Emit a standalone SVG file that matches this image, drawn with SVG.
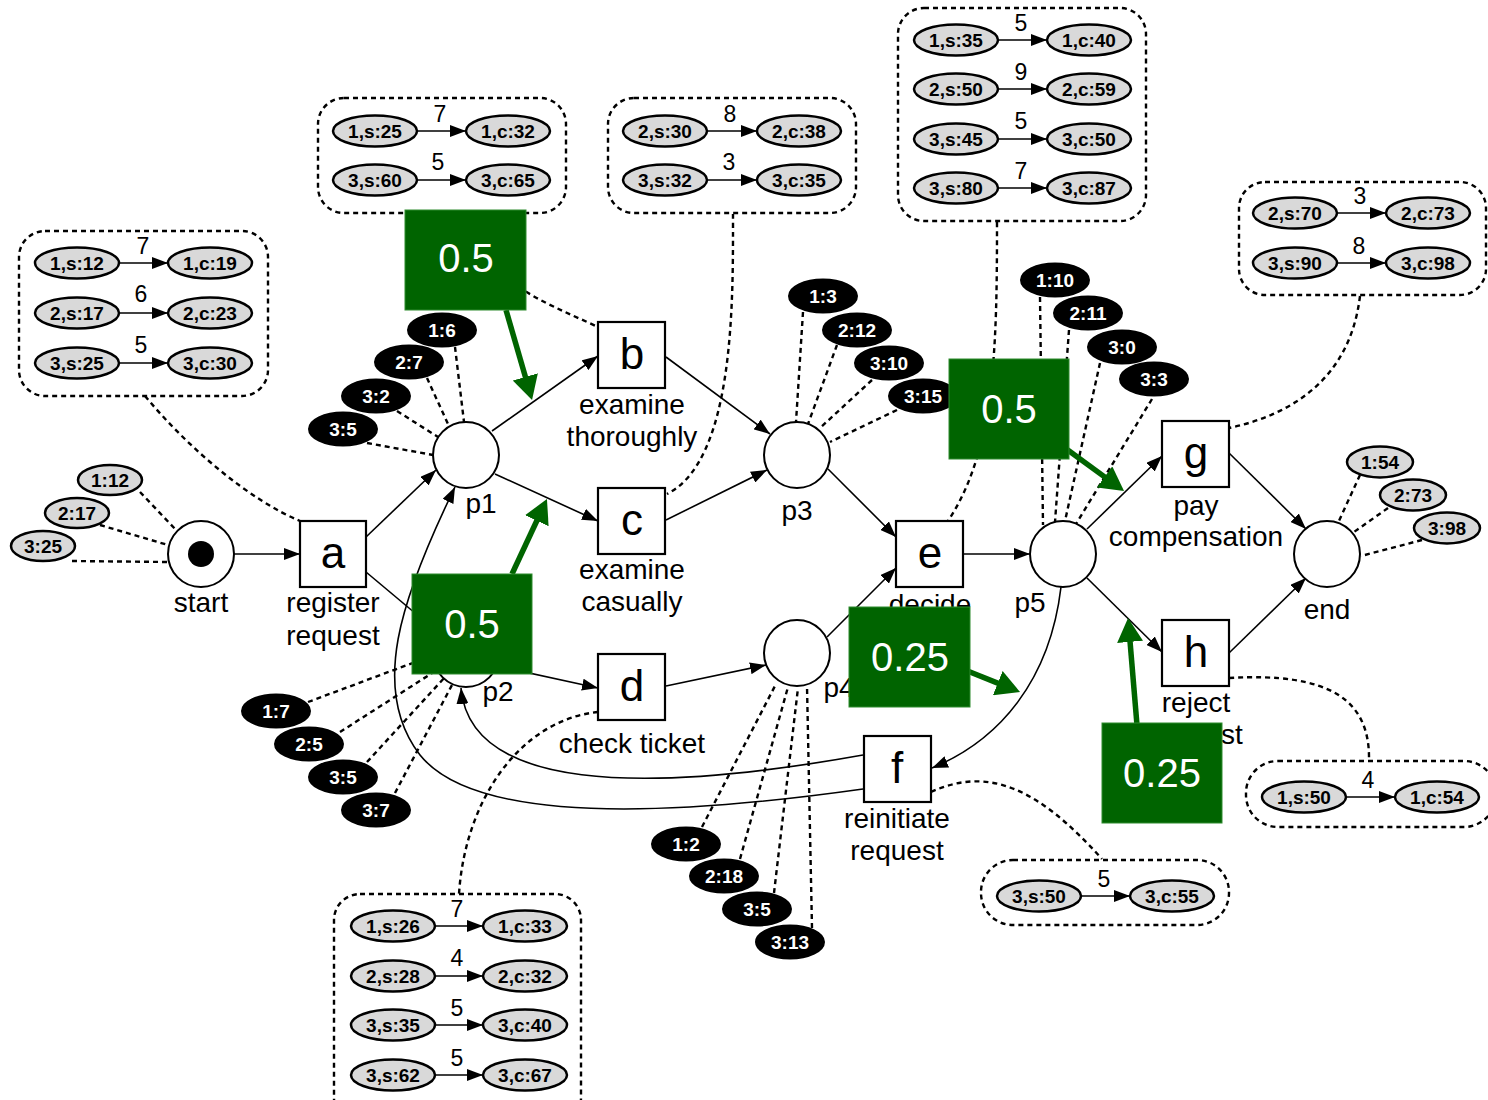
<svg xmlns="http://www.w3.org/2000/svg" width="1488" height="1100" viewBox="0 0 1488 1100">
<defs>
<marker id="ah" markerUnits="userSpaceOnUse" viewBox="0 0 16 12" refX="16" refY="6" markerWidth="16" markerHeight="12" orient="auto"><path d="M0,0 L16,6 L0,12 z" fill="#000"/></marker>
<marker id="gah" markerUnits="userSpaceOnUse" viewBox="0 0 24 26" refX="8" refY="13" markerWidth="24" markerHeight="26" orient="auto"><path d="M0,0 L24,13 L0,26 z" fill="#006400"/></marker>
<style>
text{font-family:"Liberation Sans",Arial,sans-serif;}
.lbl{font-size:28px;text-anchor:middle;fill:#000;}
.let{font-size:44px;text-anchor:middle;fill:#000;}
.pl{fill:#fff;stroke:#000;stroke-width:2;}
.tr{fill:#fff;stroke:#000;stroke-width:2.2;}
.arc{fill:none;stroke:#000;stroke-width:1.6;marker-end:url(#ah);}
.dot{fill:none;stroke:#000;stroke-width:2.4;stroke-dasharray:5,4;}
.tokb{fill:#000;stroke:#000;stroke-width:2;}
.tokg{fill:#d9d9d9;stroke:#000;stroke-width:2.5;}
.tt{font-size:19px;font-weight:bold;text-anchor:middle;}
.tw{fill:#fff;}
.tk{fill:#000;}
.num{font-size:23px;text-anchor:middle;fill:#000;}
.ia{stroke:#000;stroke-width:1.6;marker-end:url(#ah);}
.gbox{fill:#006400;stroke:#2e8b2e;stroke-width:1;}
.gt{font-size:40px;fill:#fff;text-anchor:middle;}
.ga{stroke:#006400;stroke-width:5.5;fill:none;marker-end:url(#gah);}
.ann{fill:none;stroke:#000;stroke-width:2.4;stroke-dasharray:5,4;}
</style>
</defs>
<rect width="1488" height="1100" fill="#fff"/>

<g id="connectors">
<path class="dot" d="M145 396 C190 450, 250 500, 300 521"/>
<path class="dot" d="M470 214 C480 280, 540 300, 598 327"/>
<path class="dot" d="M733 214 C733 300, 735 460, 667 494"/>
<path class="dot" d="M997 222 C997 350, 995 450, 948 521"/>
<path class="dot" d="M1360 296 C1350 380, 1290 415, 1229 428"/>
<path class="dot" d="M1229 678 C1330 672, 1370 700, 1369 760"/>
<path class="dot" d="M931 792 C990 765, 1040 790, 1102 859"/>
<path class="dot" d="M598 712 C520 720, 465 800, 459 894"/>
<path class="dot" d="M140 492 L176 530 M100 525 L168 545 M72 561 L168 562"/>
<path class="dot" d="M455 347 L464 422 M427 378 L448 424 M397 411 L438 437 M367 443 L433 455"/>
<path class="dot" d="M803 312 L796 422 M837 345 L808 424 M872 380 L820 428 M897 410 L830 442"/>
<path class="dot" d="M1040 297 L1043 525 M1069 330 L1055 522 M1100 363 L1065 521 M1152 399 L1076 524"/>
<path class="dot" d="M308 702 L434 655 M340 732 L440 668 M367 762 L446 676 M395 793 L452 685"/>
<path class="dot" d="M702 827 L776 684 M740 859 L788 687 M774 893 L798 688 M812 928 L807 686"/>
<path class="dot" d="M1360 475 L1338 523 M1388 508 L1354 532 M1422 540 L1361 556"/>
<line class="arc" x1="234" y1="554" x2="300" y2="554"/>
<line class="arc" x1="366" y1="537" x2="436" y2="470"/>
<line class="arc" x1="366" y1="572" x2="440" y2="634"/>
<line class="arc" x1="492" y1="431" x2="598" y2="356"/>
<line class="arc" x1="495" y1="474" x2="598" y2="521"/>
<line class="arc" x1="666" y1="357" x2="770" y2="434"/>
<line class="arc" x1="666" y1="520" x2="767" y2="470"/>
<line class="arc" x1="497" y1="666" x2="598" y2="688"/>
<line class="arc" x1="666" y1="686" x2="766" y2="665"/>
<line class="arc" x1="828" y1="469" x2="896" y2="537"/>
<line class="arc" x1="827" y1="637" x2="896" y2="568"/>
<line class="arc" x1="963" y1="554" x2="1030" y2="554"/>
<line class="arc" x1="1087" y1="529" x2="1162" y2="456"/>
<line class="arc" x1="1087" y1="578" x2="1162" y2="652"/>
<line class="arc" x1="1229" y1="453" x2="1306" y2="529"/>
<line class="arc" x1="1229" y1="653" x2="1306" y2="578"/>
<path class="arc" d="M1061 587 C1050 680, 1000 740, 932 768"/>
<path class="arc" d="M863 755 C640 795, 470 790, 461 688"/>
<path class="arc" d="M863 789 C700 812, 480 830, 420 755 C370 690, 400 600, 455 487"/>
</g>

<g id="ann-a">
<rect class="ann" x="19" y="231" width="249" height="165" rx="26"/>
<ellipse class="tokg" cx="77" cy="263" rx="42" ry="15.5"/><text class="tt tk" x="77" y="270">1,s:12</text>
<line class="ia" x1="119" y1="263" x2="168" y2="263"/><text class="num" x="143" y="254">7</text>
<ellipse class="tokg" cx="210" cy="263" rx="42" ry="15.5"/><text class="tt tk" x="210" y="270">1,c:19</text>
<ellipse class="tokg" cx="77" cy="313" rx="42" ry="15.5"/><text class="tt tk" x="77" y="320">2,s:17</text>
<line class="ia" x1="119" y1="313" x2="168" y2="313"/><text class="num" x="141" y="302">6</text>
<ellipse class="tokg" cx="210" cy="313" rx="42" ry="15.5"/><text class="tt tk" x="210" y="320">2,c:23</text>
<ellipse class="tokg" cx="77" cy="363" rx="42" ry="15.5"/><text class="tt tk" x="77" y="370">3,s:25</text>
<line class="ia" x1="119" y1="363" x2="168" y2="363"/><text class="num" x="141" y="353">5</text>
<ellipse class="tokg" cx="210" cy="363" rx="42" ry="15.5"/><text class="tt tk" x="210" y="370">3,c:30</text>
</g>
<g id="ann-b">
<rect class="ann" x="318" y="98" width="248" height="115" rx="26"/>
<ellipse class="tokg" cx="375" cy="131" rx="42" ry="15.5"/><text class="tt tk" x="375" y="138">1,s:25</text>
<line class="ia" x1="417" y1="131" x2="466" y2="131"/><text class="num" x="440" y="122">7</text>
<ellipse class="tokg" cx="508" cy="131" rx="42" ry="15.5"/><text class="tt tk" x="508" y="138">1,c:32</text>
<ellipse class="tokg" cx="375" cy="180" rx="42" ry="15.5"/><text class="tt tk" x="375" y="187">3,s:60</text>
<line class="ia" x1="417" y1="180" x2="466" y2="180"/><text class="num" x="438" y="170">5</text>
<ellipse class="tokg" cx="508" cy="180" rx="42" ry="15.5"/><text class="tt tk" x="508" y="187">3,c:65</text>
</g>
<g id="ann-c">
<rect class="ann" x="608" y="98" width="248" height="115" rx="26"/>
<ellipse class="tokg" cx="665" cy="131" rx="42" ry="15.5"/><text class="tt tk" x="665" y="138">2,s:30</text>
<line class="ia" x1="707" y1="131" x2="757" y2="131"/><text class="num" x="730" y="122">8</text>
<ellipse class="tokg" cx="799" cy="131" rx="42" ry="15.5"/><text class="tt tk" x="799" y="138">2,c:38</text>
<ellipse class="tokg" cx="665" cy="180" rx="42" ry="15.5"/><text class="tt tk" x="665" y="187">3,s:32</text>
<line class="ia" x1="707" y1="180" x2="757" y2="180"/><text class="num" x="729" y="170">3</text>
<ellipse class="tokg" cx="799" cy="180" rx="42" ry="15.5"/><text class="tt tk" x="799" y="187">3,c:35</text>
</g>
<g id="ann-e">
<rect class="ann" x="898" y="8" width="248" height="213" rx="26"/>
<ellipse class="tokg" cx="956" cy="40" rx="42" ry="15.5"/><text class="tt tk" x="956" y="47">1,s:35</text>
<line class="ia" x1="998" y1="40" x2="1047" y2="40"/><text class="num" x="1021" y="31">5</text>
<ellipse class="tokg" cx="1089" cy="40" rx="42" ry="15.5"/><text class="tt tk" x="1089" y="47">1,c:40</text>
<ellipse class="tokg" cx="956" cy="89" rx="42" ry="15.5"/><text class="tt tk" x="956" y="96">2,s:50</text>
<line class="ia" x1="998" y1="89" x2="1047" y2="89"/><text class="num" x="1021" y="80">9</text>
<ellipse class="tokg" cx="1089" cy="89" rx="42" ry="15.5"/><text class="tt tk" x="1089" y="96">2,c:59</text>
<ellipse class="tokg" cx="956" cy="139" rx="42" ry="15.5"/><text class="tt tk" x="956" y="146">3,s:45</text>
<line class="ia" x1="998" y1="139" x2="1047" y2="139"/><text class="num" x="1021" y="129">5</text>
<ellipse class="tokg" cx="1089" cy="139" rx="42" ry="15.5"/><text class="tt tk" x="1089" y="146">3,c:50</text>
<ellipse class="tokg" cx="956" cy="188" rx="42" ry="15.5"/><text class="tt tk" x="956" y="195">3,s:80</text>
<line class="ia" x1="998" y1="188" x2="1047" y2="188"/><text class="num" x="1021" y="179">7</text>
<ellipse class="tokg" cx="1089" cy="188" rx="42" ry="15.5"/><text class="tt tk" x="1089" y="195">3,c:87</text>
</g>
<g id="ann-g">
<rect class="ann" x="1239" y="182" width="247" height="113" rx="26"/>
<ellipse class="tokg" cx="1295" cy="213" rx="42" ry="15.5"/><text class="tt tk" x="1295" y="220">2,s:70</text>
<line class="ia" x1="1337" y1="213" x2="1386" y2="213"/><text class="num" x="1360" y="204">3</text>
<ellipse class="tokg" cx="1428" cy="213" rx="42" ry="15.5"/><text class="tt tk" x="1428" y="220">2,c:73</text>
<ellipse class="tokg" cx="1295" cy="263" rx="42" ry="15.5"/><text class="tt tk" x="1295" y="270">3,s:90</text>
<line class="ia" x1="1337" y1="263" x2="1386" y2="263"/><text class="num" x="1359" y="254">8</text>
<ellipse class="tokg" cx="1428" cy="263" rx="42" ry="15.5"/><text class="tt tk" x="1428" y="270">3,c:98</text>
</g>
<g id="ann-h">
<rect class="ann" x="1246" y="761" width="250" height="66" rx="32"/>
<ellipse class="tokg" cx="1304" cy="797" rx="42" ry="15.5"/><text class="tt tk" x="1304" y="804">1,s:50</text>
<line class="ia" x1="1346" y1="797" x2="1395" y2="797"/><text class="num" x="1368" y="788">4</text>
<ellipse class="tokg" cx="1437" cy="797" rx="42" ry="15.5"/><text class="tt tk" x="1437" y="804">1,c:54</text>
</g>
<g id="ann-f">
<rect class="ann" x="981" y="860" width="248" height="65" rx="32"/>
<ellipse class="tokg" cx="1039" cy="896" rx="42" ry="15.5"/><text class="tt tk" x="1039" y="903">3,s:50</text>
<line class="ia" x1="1081" y1="896" x2="1130" y2="896"/><text class="num" x="1104" y="887">5</text>
<ellipse class="tokg" cx="1172" cy="896" rx="42" ry="15.5"/><text class="tt tk" x="1172" y="903">3,c:55</text>
</g>
<g id="ann-d">
<rect class="ann" x="334" y="894" width="247" height="230" rx="26"/>
<ellipse class="tokg" cx="393" cy="926" rx="42" ry="15.5"/><text class="tt tk" x="393" y="933">1,s:26</text>
<line class="ia" x1="435" y1="926" x2="483" y2="926"/><text class="num" x="457" y="917">7</text>
<ellipse class="tokg" cx="525" cy="926" rx="42" ry="15.5"/><text class="tt tk" x="525" y="933">1,c:33</text>
<ellipse class="tokg" cx="393" cy="976" rx="42" ry="15.5"/><text class="tt tk" x="393" y="983">2,s:28</text>
<line class="ia" x1="435" y1="976" x2="483" y2="976"/><text class="num" x="457" y="966">4</text>
<ellipse class="tokg" cx="525" cy="976" rx="42" ry="15.5"/><text class="tt tk" x="525" y="983">2,c:32</text>
<ellipse class="tokg" cx="393" cy="1025" rx="42" ry="15.5"/><text class="tt tk" x="393" y="1032">3,s:35</text>
<line class="ia" x1="435" y1="1025" x2="483" y2="1025"/><text class="num" x="457" y="1016">5</text>
<ellipse class="tokg" cx="525" cy="1025" rx="42" ry="15.5"/><text class="tt tk" x="525" y="1032">3,c:40</text>
<ellipse class="tokg" cx="393" cy="1075" rx="42" ry="15.5"/><text class="tt tk" x="393" y="1082">3,s:62</text>
<line class="ia" x1="435" y1="1075" x2="483" y2="1075"/><text class="num" x="457" y="1066">5</text>
<ellipse class="tokg" cx="525" cy="1075" rx="42" ry="15.5"/><text class="tt tk" x="525" y="1082">3,c:67</text>
</g>

<g id="tokens-start">
<ellipse class="tokg" cx="110" cy="480" rx="32" ry="15"/><text class="tt tk" x="110" y="487">1:12</text>
<ellipse class="tokg" cx="77" cy="513" rx="32" ry="15"/><text class="tt tk" x="77" y="520">2:17</text>
<ellipse class="tokg" cx="43" cy="546" rx="32" ry="15"/><text class="tt tk" x="43" y="553">3:25</text>
</g>
<g id="tokens-p1">
<ellipse class="tokb" cx="442" cy="330" rx="34" ry="16.5"/><text class="tt tw" x="442" y="337">1:6</text>
<ellipse class="tokb" cx="409" cy="362" rx="34" ry="16.5"/><text class="tt tw" x="409" y="369">2:7</text>
<ellipse class="tokb" cx="376" cy="396" rx="34" ry="16.5"/><text class="tt tw" x="376" y="403">3:2</text>
<ellipse class="tokb" cx="343" cy="429" rx="34" ry="16.5"/><text class="tt tw" x="343" y="436">3:5</text>
</g>
<g id="tokens-p2">
<ellipse class="tokb" cx="276" cy="711" rx="34" ry="16.5"/><text class="tt tw" x="276" y="718">1:7</text>
<ellipse class="tokb" cx="309" cy="744" rx="34" ry="16.5"/><text class="tt tw" x="309" y="751">2:5</text>
<ellipse class="tokb" cx="343" cy="777" rx="34" ry="16.5"/><text class="tt tw" x="343" y="784">3:5</text>
<ellipse class="tokb" cx="376" cy="810" rx="34" ry="16.5"/><text class="tt tw" x="376" y="817">3:7</text>
</g>
<g id="tokens-p3">
<ellipse class="tokb" cx="823" cy="296" rx="34" ry="16.5"/><text class="tt tw" x="823" y="303">1:3</text>
<ellipse class="tokb" cx="857" cy="330" rx="34" ry="16.5"/><text class="tt tw" x="857" y="337">2:12</text>
<ellipse class="tokb" cx="889" cy="363" rx="34" ry="16.5"/><text class="tt tw" x="889" y="370">3:10</text>
<ellipse class="tokb" cx="923" cy="396" rx="34" ry="16.5"/><text class="tt tw" x="923" y="403">3:15</text>
</g>
<g id="tokens-p4">
<ellipse class="tokb" cx="686" cy="844" rx="34" ry="16.5"/><text class="tt tw" x="686" y="851">1:2</text>
<ellipse class="tokb" cx="724" cy="876" rx="34" ry="16.5"/><text class="tt tw" x="724" y="883">2:18</text>
<ellipse class="tokb" cx="757" cy="909" rx="34" ry="16.5"/><text class="tt tw" x="757" y="916">3:5</text>
<ellipse class="tokb" cx="790" cy="942" rx="34" ry="16.5"/><text class="tt tw" x="790" y="949">3:13</text>
</g>
<g id="tokens-p5">
<ellipse class="tokb" cx="1055" cy="280" rx="34" ry="16.5"/><text class="tt tw" x="1055" y="287">1:10</text>
<ellipse class="tokb" cx="1088" cy="313" rx="34" ry="16.5"/><text class="tt tw" x="1088" y="320">2:11</text>
<ellipse class="tokb" cx="1122" cy="347" rx="34" ry="16.5"/><text class="tt tw" x="1122" y="354">3:0</text>
<ellipse class="tokb" cx="1154" cy="379" rx="34" ry="16.5"/><text class="tt tw" x="1154" y="386">3:3</text>
</g>
<g id="tokens-end">
<ellipse class="tokg" cx="1380" cy="462" rx="33" ry="15.5"/><text class="tt tk" x="1380" y="469">1:54</text>
<ellipse class="tokg" cx="1413" cy="495" rx="33" ry="15.5"/><text class="tt tk" x="1413" y="502">2:73</text>
<ellipse class="tokg" cx="1447" cy="528" rx="33" ry="15.5"/><text class="tt tk" x="1447" y="535">3:98</text>
</g>

<g id="start"><circle class="pl" cx="201" cy="554" r="33"/><circle cx="201" cy="554" r="13" fill="#000"/><text class="lbl" x="201" y="612">start</text></g>
<g id="p1"><circle class="pl" cx="466" cy="455" r="33"/><text class="lbl" x="481" y="513">p1</text></g>
<g id="p2"><circle class="pl" cx="466" cy="654" r="33"/><text class="lbl" x="498" y="701">p2</text></g>
<g id="p3"><circle class="pl" cx="797" cy="455" r="33"/><text class="lbl" x="797" y="520">p3</text></g>
<g id="p4"><circle class="pl" cx="797" cy="653" r="33"/><text class="lbl" x="839" y="697">p4</text></g>
<g id="p5"><circle class="pl" cx="1063" cy="554" r="33"/><text class="lbl" x="1030" y="612">p5</text></g>
<g id="end"><circle class="pl" cx="1327" cy="554" r="33"/><text class="lbl" x="1327" y="619">end</text></g>

<g id="a"><rect class="tr" x="300" y="521" width="66" height="66"/><text class="let" x="333" y="568">a</text><text class="lbl" x="333" y="612">register</text><text class="lbl" x="333" y="645">request</text></g>
<g id="b"><rect class="tr" x="598" y="322" width="67" height="66"/><text class="let" x="632" y="369">b</text><text class="lbl" x="632" y="414">examine</text><text class="lbl" x="632" y="446">thoroughly</text></g>
<g id="c"><rect class="tr" x="598" y="488" width="67" height="66"/><text class="let" x="632" y="535">c</text><text class="lbl" x="632" y="579">examine</text><text class="lbl" x="632" y="611">casually</text></g>
<g id="d"><rect class="tr" x="598" y="654" width="67" height="66"/><text class="let" x="632" y="701">d</text><text class="lbl" x="632" y="753">check ticket</text></g>
<g id="e"><rect class="tr" x="896" y="521" width="67" height="66"/><text class="let" x="930" y="568">e</text><text class="lbl" x="930" y="614">decide</text></g>
<g id="f"><rect class="tr" x="864" y="736" width="67" height="66"/><text class="let" x="897" y="783">f</text><text class="lbl" x="897" y="828">reinitiate</text><text class="lbl" x="897" y="860">request</text></g>
<g id="g"><rect class="tr" x="1162" y="421" width="67" height="66"/><text class="let" x="1196" y="468">g</text><text class="lbl" x="1196" y="515">pay</text><text class="lbl" x="1196" y="546">compensation</text></g>
<g id="h"><rect class="tr" x="1162" y="620" width="67" height="66"/><text class="let" x="1196" y="667">h</text><text class="lbl" x="1196" y="712">reject</text><text class="lbl" x="1196" y="744">request</text></g>

<g id="prob1"><line class="ga" x1="506" y1="310" x2="527.6" y2="384.6"/><rect class="gbox" x="405" y="210" width="121" height="100"/><text class="gt" x="466" y="272">0.5</text></g>
<g id="prob2"><line class="ga" x1="512" y1="574" x2="540.2" y2="513.5"/><rect class="gbox" x="412" y="574" width="120" height="100"/><text class="gt" x="472" y="638">0.5</text></g>
<g id="prob3"><line class="ga" x1="1065" y1="448" x2="1111.1" y2="481.6"/><rect class="gbox" x="949" y="359" width="120" height="100"/><text class="gt" x="1009" y="423">0.5</text></g>
<g id="prob4"><line class="ga" x1="965" y1="670" x2="1005.2" y2="686.1"/><rect class="gbox" x="849" y="607" width="121" height="100"/><text class="gt" x="910" y="671">0.25</text></g>
<g id="prob5"><line class="ga" x1="1137" y1="725" x2="1129.4" y2="633.9"/><rect class="gbox" x="1102" y="723" width="120" height="100"/><text class="gt" x="1162" y="787">0.25</text></g>
</svg>
